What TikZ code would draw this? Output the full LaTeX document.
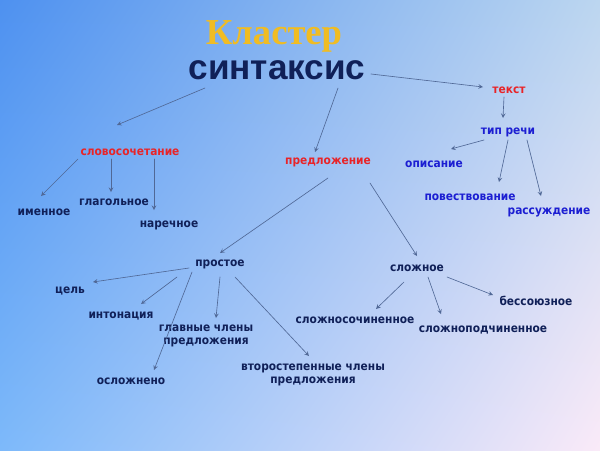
\documentclass[tikz,border=0pt]{standalone}
\usepackage{fontspec}
\setmainfont{DejaVu Sans}[FakeStretch=0.9]
\newfontfamily\titlefont{Liberation Serif}
\newfontfamily\headfont{Liberation Sans}
\usepackage{tikz}
\usetikzlibrary{calc,arrows,shadings}

\definecolor{bgTL}{RGB}{78,145,240}
\definecolor{bgTR}{RGB}{188,214,240}
\definecolor{bgBL}{RGB}{125,185,250}
\definecolor{bgBR}{RGB}{250,234,248}
\definecolor{clGold}{RGB}{240,188,35}
\definecolor{clNavy}{RGB}{16,32,88}
\definecolor{clRed}{RGB}{232,36,40}
\definecolor{clBlue}{RGB}{28,30,210}
\definecolor{clLine}{RGB}{80,104,150}

\begin{document}
\begin{tikzpicture}[x=0.025cm,y=-0.025cm,>=stealth,line cap=round,line join=round,
    every node/.style={inner sep=0pt,align=center,font=\bfseries\fontsize{8.4}{9}\selectfont},
    topic/.style={text=clRed},
    kind/.style={text=clBlue},
    item/.style={text=clNavy},
    link/.style={->,draw=clLine,line width=0.45pt}]
    \shade [upper left=bgTL,upper right=bgTR,lower left=bgBL,lower right=bgBR]
        (0,0) rectangle (600,450);

    \node (klaster) at (274,36) [text=clGold,font=\titlefont\bfseries\fontsize{26}{28}\selectfont] {Кластер};
    \node (synt) at (277,70) [item,font=\headfont\bfseries\fontsize{25}{28}\selectfont] {синтаксис};

    \node (tekst) at (509,90) [topic] {текст};
    \node (tip) at (508,132) [kind] {тип речи};
    \node (opis) at (434,164) [kind] {описание};
    \node (povest) at (470,197) [kind] {повествование};
    \node (rassuzh) at (549,212) [kind] {рассуждение};

    \node (slovo) at (130,152) [topic] {словосочетание};
    \node (imen) at (44,212) [item] {именное};
    \node (glag) at (114,202) [item] {глагольное};
    \node (narech) at (169,225) [item] {наречное};

    \node (predl) at (328,162) [topic] {предложение};
    \node (prost) at (220,264) [item] {простое};
    \node (slozh) at (417,268) [item] {сложное};
    \node (cel) at (70,291) [item] {цель};
    \node (into) at (121,316) [item] {интонация};
    \node (glav) at (206,336) [item] {главные члены\\предложения};
    \node (oslozh) at (131,381) [item] {осложнено};
    \node (vtor) at (313,375) [item] {второстепенные члены\\предложения};
    \node (sochin) at (355,320) [item] {сложносочиненное};
    \node (podch) at (483,330) [item] {сложноподчиненное};
    \node (bessoyuz) at (536,301) [item] {бессоюзное};

    % from the head word
    \draw [link] ($(synt)+(-72,18)$) -- ($(slovo)+(-13,-27)$);
    \draw [link] ($(synt)+(61,18)$) -- ($(predl)+(-13,-10)$);
    \draw [link] ($(synt)+(94,4)$) -- ($(tekst)+(-26,-3)$);

    % text
    \draw [link] ($(tekst)+(-5,7)$) -- ($(tip)+(-5,-14)$);
    \draw [link] ($(tip)+(-24,8)$) -- ($(opis)+(17,-15)$);
    \draw [link] ($(tip)+(0,8)$) -- ($(povest)+(29,-15)$);
    \draw [link] ($(tip)+(19,8)$) -- ($(rassuzh)+(-8,-16)$);

    % word combination
    \draw [link] ($(slovo)+(-52,7)$) -- ($(imen)+(-3,-16)$);
    \draw [link] ($(slovo)+(-19,7)$) -- ($(glag)+(-3,-10)$);
    \draw [link] ($(slovo)+(24,7)$) -- ($(narech)+(-15,-15)$);

    % sentence
    \draw [link] ($(predl)+(0,16)$) -- ($(prost)+(0,-11)$);
    \draw [link] ($(predl)+(42,21)$) -- ($(slozh)+(0,-12)$);
    \draw [link] ($(prost)+(-31,4)$) -- ($(cel)+(23,-9)$);
    \draw [link] ($(prost)+(-43,13)$) -- ($(into)+(20,-12)$);
    \draw [link] ($(prost)+(-28,8)$) -- ($(oslozh)+(23,-11)$);
    \draw [link] ($(prost)+(0,13)$) -- ($(glav)+(10,-18)$);
    \draw [link] ($(prost)+(15,13)$) -- ($(vtor)+(-4,-19)$);
    \draw [link] ($(slozh)+(-13,14)$) -- ($(sochin)+(21,-11)$);
    \draw [link] ($(slozh)+(11,9)$) -- ($(podch)+(-42,-16)$);
    \draw [link] ($(slozh)+(30,9)$) -- ($(bessoyuz)+(-43,-6)$);
\end{tikzpicture}
\end{document}
